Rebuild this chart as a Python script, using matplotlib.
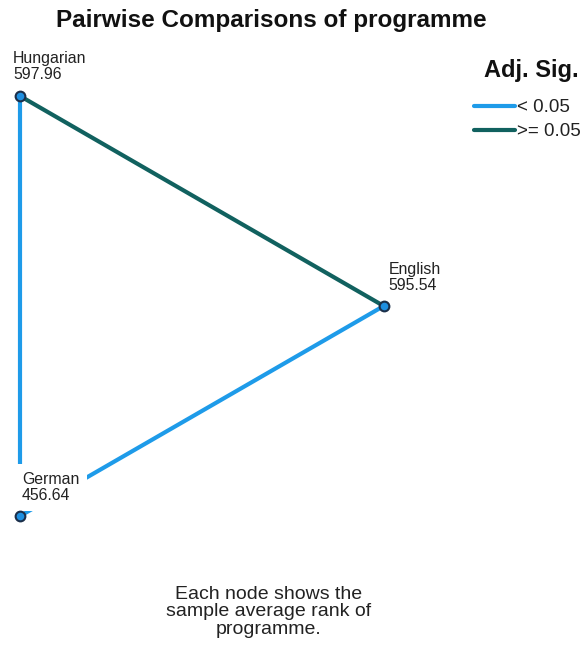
#!/usr/bin/env python3
"""
Pairwise comparisons of programme (Kruskal-Wallis post hoc), node graph.
"""
import numpy as np
import matplotlib

matplotlib.use("Agg")
import matplotlib.pyplot as plt
from matplotlib.lines import Line2D

plt.rcParams["font.family"] = ["Liberation Sans", "DejaVu Sans"]

# Данные
groups = ["Hungarian", "English", "German"]
mean_ranks = [597.96, 595.54, 456.64]
pair_a = ["Hungarian", "Hungarian", "English"]
pair_b = ["English", "German", "German"]
pair_significant = [False, True, True]
legend_labels = ["< 0.05", ">= 0.05"]

BLUE = "#1e9be9"
TEAL = "#11615f"
NODE_FILL = "#1f8fe0"
NODE_EDGE = "#1b2f4a"

W, H = 587, 646


def main():
    fig = plt.figure(figsize=(W / 100, H / 100), dpi=100)
    ax = fig.add_axes([0, 0, 1, 1])
    ax.set_xlim(0, W)
    ax.set_ylim(H, 0)
    ax.axis("off")

    # Раскладка: равносторонний треугольник
    side = 420
    start = np.array([20.0, 96.0])
    pos = {
        "Hungarian": start,
        "English": start + side * np.array([np.cos(np.radians(30)), np.sin(np.radians(30))]),
        "German": start + np.array([0, side]),
    }

    for a, b, sig in zip(pair_a, pair_b, pair_significant):
        xa, ya = pos[a]
        xb, yb = pos[b]
        ax.plot([xa, xb], [ya, yb], color=BLUE if sig else TEAL, lw=3.0,
                solid_capstyle="butt", zorder=1)

    offsets = {"Hungarian": (-7, -14), "English": (5, -13), "German": (2, -13)}
    for g, r in zip(groups, mean_ranks):
        x, y = pos[g]
        dx, dy = offsets[g]
        ax.text(x + dx, y + dy, f"{g}\n{r:.2f}", fontsize=11.4, color="#222222",
                ha="left", va="bottom", linespacing=1.05, zorder=2,
                bbox=dict(boxstyle="square,pad=0.5", fc="white", ec="none"))
        ax.plot(x, y, "o", ms=7, mfc=NODE_FILL, mec=NODE_EDGE, mew=1.5, zorder=3)

    ax.text(271, 21, "Pairwise Comparisons of programme", fontsize=17.5,
            fontweight="bold", ha="center", va="center", color="#111111")

    # Легенда
    ax.text(531, 71, "Adj. Sig.", fontsize=17, fontweight="bold",
            ha="center", va="center", color="#111111")
    for i, (lab, col) in enumerate(zip(legend_labels, [BLUE, TEAL])):
        y = 106 + 24 * i
        ax.add_line(Line2D([474, 515], [y, y], color=col, lw=3.0,
                           solid_capstyle="round"))
        ax.text(517, y + 1, lab, fontsize=13.5, ha="left", va="center",
                color="#222222")

    ax.text(269, 612, "Each node shows the\nsample average rank of\nprogramme.",
            fontsize=14, ha="center", va="center", linespacing=1.02,
            color="#222222")

    fig.savefig("out.png", dpi=100)
    plt.close(fig)


if __name__ == "__main__":
    main()
